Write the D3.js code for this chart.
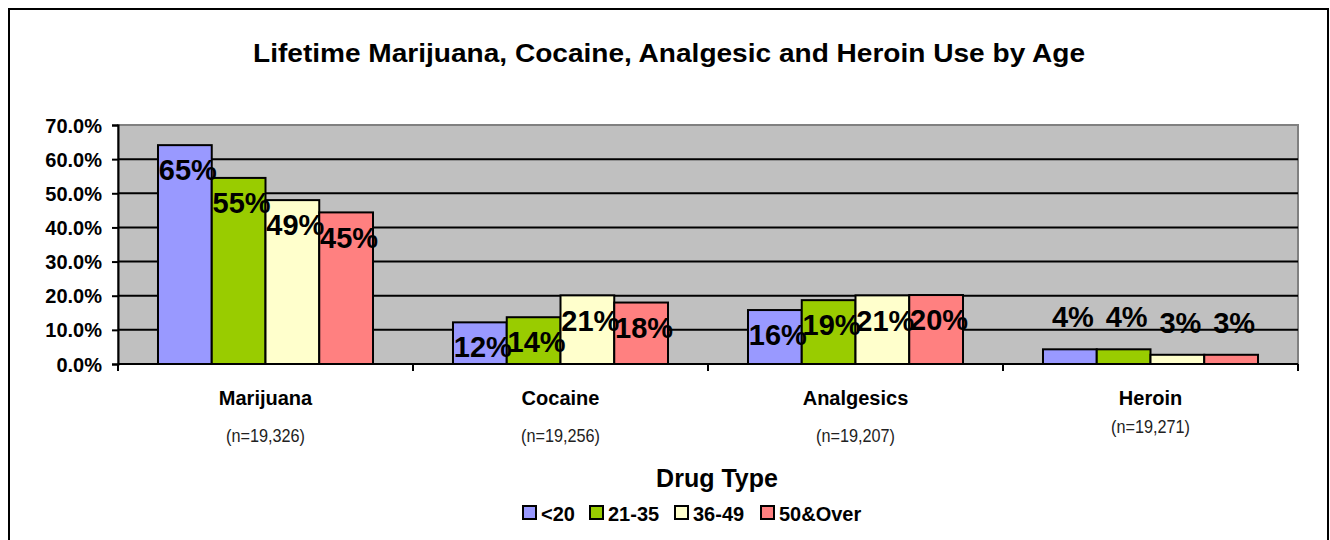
<!DOCTYPE html>
<html><head><meta charset="utf-8">
<script src="https://cdn.jsdelivr.net/npm/d3@7"></script>
<style>
body{margin:0;background:#fff;}
svg{display:block;font-family:Arial,"Liberation Sans",sans-serif;}
</style></head>
<body><svg id="chart" width="1330" height="540"></svg>
<script>
const categories = ["Marijuana","Cocaine","Analgesics","Heroin"];
const sampleSizes = ["(n=19,326)","(n=19,256)","(n=19,207)","(n=19,271)"];
const seriesNames = ["<20","21-35","36-49","50&Over"];
const under20   = [0.641, 0.122, 0.158, 0.043];
const age21to35 = [0.545, 0.137, 0.187, 0.043];
const age36to49 = [0.480, 0.201, 0.201, 0.027];
const age50over = [0.444, 0.180, 0.202, 0.027];
const labelsUnder20   = ["65%","12%","16%","4%"];
const labels21to35    = ["55%","14%","19%","4%"];
const labels36to49    = ["49%","21%","21%","3%"];
const labels50over    = ["45%","18%","20%","3%"];
const yTicks = [0,0.1,0.2,0.3,0.4,0.5,0.6,0.7];
const colors = ["#9999FF","#99CC00","#FFFFCC","#FF8080"];

const seriesValues = [under20, age21to35, age36to49, age50over];
const seriesLabels = [labelsUnder20, labels21to35, labels36to49, labels50over];

const svg = d3.select("#chart");
const L = 118, R = 1298, T = 125, B = 364;

// outer frame
svg.append("rect").attr("x",9).attr("y",9).attr("width",1319).attr("height",560)
  .attr("fill","#fff").attr("stroke","#000").attr("stroke-width",2);

// title
svg.append("text").attr("x",669).attr("y",62).attr("text-anchor","middle")
  .attr("font-size",25).attr("font-weight","bold")
  .attr("textLength",832).attr("lengthAdjust","spacingAndGlyphs")
  .text("Lifetime Marijuana, Cocaine, Analgesic and Heroin Use by Age");

const y = d3.scaleLinear().domain([0,0.7]).range([B,T]);
const x0 = d3.scaleBand().domain(categories).range([L,R]).padding(0);
const x1 = d3.scaleBand().domain(seriesNames).range([0,x0.bandwidth()]).paddingInner(0).paddingOuter(0.744);

// plot area
svg.append("rect").attr("x",L).attr("y",T).attr("width",R-L).attr("height",B-T)
  .attr("fill","#C0C0C0").attr("stroke","#808080").attr("stroke-width",2);

// gridlines
svg.append("g").selectAll("line").data(yTicks.filter(t=>t>0 && t<0.7)).join("line")
  .attr("x1",L).attr("x2",R).attr("y1",d=>y(d)).attr("y2",d=>y(d))
  .attr("stroke","#000").attr("stroke-width",2);

// y axis
const yAxis = d3.axisLeft(y).tickValues(yTicks).tickFormat(d3.format(".1%")).tickSize(6).tickPadding(10);
const gy = svg.append("g").attr("transform",`translate(${L},0)`).call(yAxis);
gy.select(".domain").attr("stroke","#000").attr("stroke-width",2);
gy.selectAll(".tick line").attr("stroke","#000").attr("stroke-width",2);
gy.selectAll(".tick text").attr("font-size",20).attr("font-weight","bold").attr("fill","#000")
  .attr("font-family","Arial, 'Liberation Sans', sans-serif").attr("dy","0.35em");

// bars
const groups = svg.append("g").selectAll("g").data(categories).join("g")
  .attr("transform",d=>`translate(${x0(d)},0)`);
seriesNames.forEach((s,si)=>{
  groups.append("rect")
    .attr("x",x1(s)).attr("width",x1.bandwidth())
    .attr("y",(d,ci)=>y(seriesValues[si][ci]))
    .attr("height",(d,ci)=>B-y(seriesValues[si][ci]))
    .attr("fill",colors[si]).attr("stroke","#000").attr("stroke-width",2);
});

// x axis
const xAxisLine = svg.append("g");
xAxisLine.append("line").attr("x1",L).attr("x2",R).attr("y1",B).attr("y2",B).attr("stroke","#000").attr("stroke-width",2);
const bounds = categories.map(c=>x0(c)).concat([x0(categories[categories.length-1])+x0.bandwidth()]);
xAxisLine.selectAll("line.tk").data(bounds).join("line").attr("class","tk")
  .attr("x1",d=>d).attr("x2",d=>d).attr("y1",B).attr("y2",B+7).attr("stroke","#000").attr("stroke-width",2);

// data labels
seriesNames.forEach((s,si)=>{
  groups.append("text")
    .attr("x",x1(s)+x1.bandwidth()/2+3)
    .attr("y",(d,ci)=>{const v=seriesValues[si][ci]; return v>0.08 ? y(v)+25 : y(v)-32;})
    .attr("dy","0.35em").attr("text-anchor","middle")
    .attr("font-size",29).attr("font-weight","bold").attr("fill","#000")
    .text((d,ci)=>seriesLabels[si][ci]);
});

// category labels
svg.append("g").selectAll("text").data(categories).join("text")
  .attr("x",d=>x0(d)+x0.bandwidth()/2).attr("y",405).attr("text-anchor","middle")
  .attr("font-size",20).attr("font-weight","bold").text(d=>d);
svg.append("g").selectAll("text").data(sampleSizes).join("text")
  .attr("x",(d,i)=>x0(categories[i])+x0.bandwidth()/2).attr("y",(d,i)=>i===3?433:442).attr("text-anchor","middle")
  .attr("font-size",19).attr("fill","#222")
  .attr("textLength",79).attr("lengthAdjust","spacingAndGlyphs").text(d=>d);

// axis title
svg.append("text").attr("x",717).attr("y",487).attr("text-anchor","middle")
  .attr("font-size",25).attr("font-weight","bold").text("Drug Type");

// legend
const legendX = [523, 590, 675, 761];
const leg = svg.append("g").selectAll("g").data(seriesNames).join("g")
  .attr("transform",(d,i)=>`translate(${legendX[i]},506)`);
leg.append("rect").attr("width",13).attr("height",13).attr("fill",(d,i)=>colors[i]).attr("stroke","#000").attr("stroke-width",2);
leg.append("text").attr("x",18).attr("y",15).attr("font-size",20).attr("font-weight","bold").text(d=>d);
</script></body></html>
